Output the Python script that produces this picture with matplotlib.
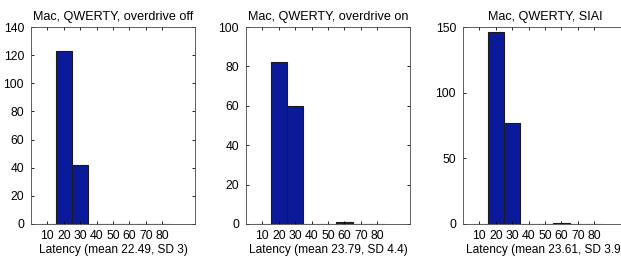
import matplotlib.pyplot as plt
import numpy as np

plt.rcParams['font.family'] = ['Liberation Sans', 'DejaVu Sans']

centers = [10, 20, 30, 40, 50, 60, 70, 80]
counts_off = [0, 123, 42, 0, 0, 0, 0, 0]
counts_on = [0, 82, 60, 0, 0, 1, 0, 0]
counts_siai = [0, 146, 77, 0, 0, 1, 0, 0]

titles = ["Mac, QWERTY, overdrive off", "Mac, QWERTY, overdrive on", "Mac, QWERTY, SIAI"]
xlabels = ["Latency (mean 22.49, SD 3)", "Latency (mean 23.79, SD 4.4)", "Latency (mean 23.61, SD 3.9)"]
ylims = [140, 100, 150]
ysteps = [20, 20, 50]

W, H = 621, 260
fig = plt.figure(figsize=(W/100, H/100), dpi=100)
lefts = [31, 246, 463]
for k, counts in enumerate([counts_off, counts_on, counts_siai]):
	l = lefts[k]
	ax = fig.add_axes([l/W, (H-224)/H, 164/W, (224-27)/H])
	ax.bar(centers, counts, width=10, color="#0b1a99", edgecolor="#1a1a1a", linewidth=0.8)
	ax.set_xlim(0, 100)
	ax.set_ylim(0, ylims[k])
	ax.set_xticks(centers)
	ax.set_yticks(np.arange(0, ylims[k]+1, ysteps[k]))
	ax.tick_params(direction="in", top=True, right=True, length=2.5, width=0.6, labelsize=8.7)
	ax.tick_params(axis="y", pad=5)
	ax.tick_params(axis="x", pad=4)
	for s in ax.spines.values():
		s.set_linewidth(0.6)
		s.set_color("#444444")
	ax.set_title(titles[k], fontsize=9.1, pad=5)
	ax.set_xlabel(xlabels[k], fontsize=8.6, labelpad=1.5)

fig.savefig("out.png", dpi=100)
